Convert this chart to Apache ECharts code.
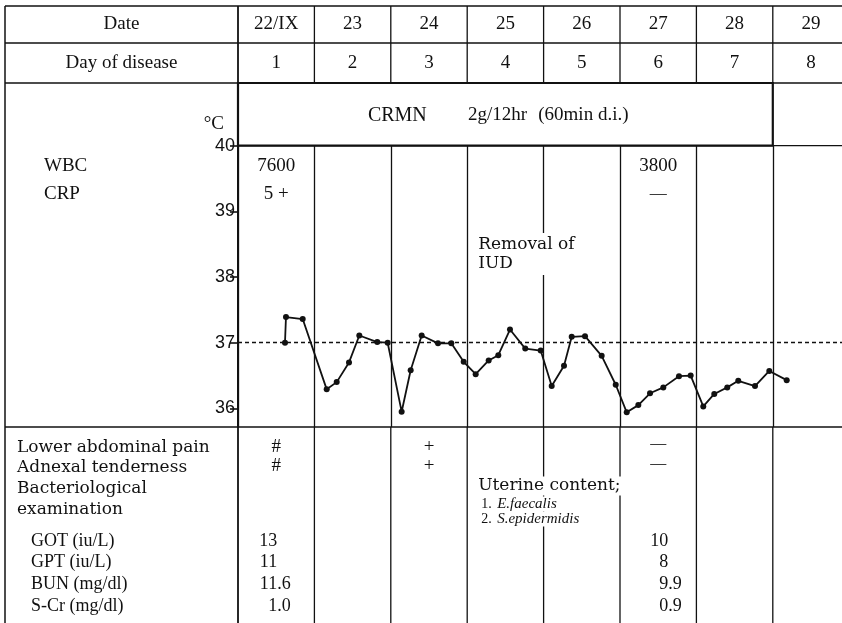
<!DOCTYPE html>
<html><head><meta charset="utf-8">
<script src="https://cdn.jsdelivr.net/npm/echarts@6/dist/echarts.min.js"></script>
<style>html,body{margin:0;padding:0;background:#fff}#c{width:842px;height:623px}</style>
</head><body><div id="c"></div>
<script>
// ---------- DATA ----------
const dates = ['22/IX','23','24','25','26','27','28','29'];
const diseaseDays = ['1','2','3','4','5','6','7','8'];
const tempTicks = [36,37,38,39,40];
// x in days from start of 22/IX, y in °C
const tempX = [0.615,0.628,0.847,1.161,1.292,1.453,1.588,1.823,1.959,2.142,2.260,2.404,2.618,2.792,2.954,3.111,3.281,3.407,3.560,3.760,3.962,4.106,4.267,4.368,4.542,4.760,4.944,5.088,5.240,5.393,5.567,5.772,5.925,6.090,6.234,6.404,6.548,6.767,6.954,7.182];
const tempY = [37.0,37.39,37.36,36.29,36.40,36.70,37.11,37.01,37.0,35.95,36.58,37.11,36.99,36.99,36.71,36.52,36.73,36.81,37.20,36.91,36.88,36.34,36.65,37.09,37.10,36.80,36.36,35.94,36.05,36.23,36.32,36.49,36.50,36.03,36.22,36.32,36.42,36.34,36.57,36.43];
const normalTemp = 37;
const treatmentText = ['CRMN','2g/12hr','(60min d.i.)'];
const treatmentSpan = [0, 7];
const labRows = ['WBC','CRP'];
const wbc = ['7600','','','','','3800','',''];
const crp = ['5 +','','','','','—','',''];
const eventText = ['Removal of','IUD'];
const eventDay = 3;
const signRows = ['Lower abdominal pain','Adnexal tenderness','Bacteriological','examination'];
const abdominalPain = ['#','','+','','','—','',''];
const adnexalTenderness = ['#','','+','','','—','',''];
const bacteriology = ['Uterine content;','1.','E.faecalis','2.','S.epidermidis'];
const bacteriologyDay = 3;
const chemRows = ['GOT (iu/L)','GPT (iu/L)','BUN (mg/dl)','S-Cr (mg/dl)'];
const got = ['13','','','','','10','',''];
const gpt = ['11','','','','','8','',''];
const bun = ['11.6','','','','','9.9','',''];
const scr = ['1.0','','','','','0.9','',''];

// ---------- LAYOUT ----------
const L = {left:5, top:6, row1:43, row2:83, plotTop:145.6, plotBottom:427, bottom:623, W:842, axisX:238, dayW:76.4, degPx:65.7};
const SERIF = '"Liberation Serif", serif';
const WIDE = '"DejaVu Serif", serif';
const INK = '#111';
const LW = 1.3;

const chart = echarts.init(document.getElementById('c'), null, {renderer:'canvas'});
const plotH = L.plotBottom - L.plotTop;
const yMin = 40 - plotH / L.degPx;

chart.setOption({
  animation:false,
  backgroundColor:'#fff',
  grid:{left:L.axisX, top:L.plotTop, width:L.dayW*8, height:plotH, outerBoundsMode:'none', containLabel:false},
  xAxis:{type:'value', min:0, max:8, interval:1,
    axisLine:{show:false}, axisTick:{show:false}, axisLabel:{show:false},
    splitLine:{show:true, lineStyle:{color:INK, width:LW}}},
  yAxis:{type:'value', min:yMin, max:40,
    axisLine:{show:true, lineStyle:{color:INK, width:2}},
    axisTick:{show:true, customValues:tempTicks, length:8, lineStyle:{color:INK, width:1.6}},
    axisLabel:{show:true, customValues:tempTicks, color:INK, fontFamily:'"Liberation Sans", sans-serif', fontSize:18, margin:3},
    splitLine:{show:false}},
  series:[{
    type:'line',
    data:tempX.map((x,i)=>[x,tempY[i]]),
    symbol:'circle', symbolSize:6,
    itemStyle:{color:INK},
    lineStyle:{color:INK, width:1.8},
    markLine:{silent:true, symbol:'none', label:{show:false},
      lineStyle:{color:INK, width:1.3, type:[4,3]},
      data:[{yAxis:normalTemp}]}
  }]
});

const xp = d => chart.convertToPixel({xAxisIndex:0}, d);
const yp = t => chart.convertToPixel({yAxisIndex:0}, t);
const colC = i => xp(i + 0.5);

const g = [];
function line(x1,y1,x2,y2,w){ g.push({type:'line', z:50, shape:{x1,y1,x2,y2}, style:{stroke:INK, lineWidth:w||LW}}); }
function text(t,x,y,opt){
  opt = opt||{};
  g.push({type:'text', z:100, style:Object.assign({text:t, x, y, fill:INK,
    font:(opt.italic?'italic ':'')+(opt.size||18)+'px '+(opt.family||SERIF),
    textAlign:opt.align||'left', align:opt.align||'left',
    textVerticalAlign:'middle', verticalAlign:'middle'}, opt.style||{})});
}

// table lines
[L.top, L.row1, L.row2, L.plotBottom].forEach(y=>line(L.left,y,L.W,y));
line(L.axisX, L.plotTop, L.W, L.plotTop);
line(L.left, L.top, L.left, L.bottom, 1.5);
for (let i=0;i<8;i++){
  line(xp(i), L.top, xp(i), L.row2, i===0?1.8:LW);
  line(xp(i), L.plotBottom, xp(i), L.bottom, i===0?1.8:LW);
}
// treatment box
g.push({type:'rect', z:60, shape:{x:xp(treatmentSpan[0]), y:L.row2, width:xp(treatmentSpan[1])-xp(treatmentSpan[0]), height:L.plotTop-L.row2},
  style:{fill:'#fff', stroke:INK, lineWidth:2.2}});

// header
const yDate = (L.top+L.row1)/2, yDay = (L.row1+L.row2)/2;
text('Date', (L.left+L.axisX)/2, yDate, {align:'center', size:19});
text('Day of disease', (L.left+L.axisX)/2, yDay, {align:'center', size:19});
dates.forEach((d,i)=>text(d, colC(i), yDate, {align:'center', size:19}));
diseaseDays.forEach((d,i)=>text(d, colC(i), yDay, {align:'center', size:19}));

// treatment text
const yTreat = (L.row2+L.plotTop)/2 + 1;
text(treatmentText[0], xp(1.7), yTreat, {size:20});
text(treatmentText[1], xp(3.01), yTreat, {size:19});
text(treatmentText[2], xp(3.93), yTreat, {size:19});
text('°C', 224, yp(40.33), {align:'right', size:19});

// lab rows
const yW = yp(39.69), yC = yp(39.27);
text(labRows[0], 44, yW, {size:19});
text(labRows[1], 44, yC, {size:19});
wbc.forEach((v,i)=>{ if(v) text(v, colC(i), yW, {align:'center', size:19}); });
crp.forEach((v,i)=>{ if(v) text(v, colC(i), yC, {align:'center', size:v==='—'?17:19}); });

// event
g.push({type:'text', z:100, style:{text:eventText.join('\n'), x:xp(eventDay)+11, y:yp(38.67), fill:INK,
  font:'17px '+WIDE, lineHeight:19, align:'left', textAlign:'left', verticalAlign:'top', textVerticalAlign:'top',
  backgroundColor:'#fff', padding:[2,2,2,0]}});

// bottom section
const signY = [448, 468, 489, 510];
signRows.forEach((t,i)=>text(t, 17, signY[i], {size:17, family:WIDE}));
const markSize = v => v==='—' ? 16 : 19;
abdominalPain.forEach((v,i)=>{ if(v) text(v, colC(i), signY[0]-(v==='—'?4:1), {align:'center', size:markSize(v)}); });
adnexalTenderness.forEach((v,i)=>{ if(v) text(v, colC(i), signY[1]-(v==='—'?4:2), {align:'center', size:markSize(v)}); });

const bx = xp(bacteriologyDay)+11;
text(bacteriology[0], bx, 486, {size:17, family:WIDE, style:{backgroundColor:'#fff', padding:[1,2,1,0]}});
text(bacteriology[1], bx+3, 504, {size:14});
text(bacteriology[2], bx+19, 504, {size:15, italic:true, style:{backgroundColor:'#fff'}});
text(bacteriology[3], bx+3, 519, {size:14});
text(bacteriology[4], bx+19, 519, {size:15, italic:true, style:{backgroundColor:'#fff'}});

const chemY = [541, 562, 584, 606];
chemRows.forEach((t,i)=>text(t, 31, chemY[i], {size:18}));
const decOffset = [1,0,0,0,0,10,0,0];
[got,gpt,bun,scr].forEach((arr,r)=>{
  arr.forEach((v,i)=>{
    if(!v) return;
    const dx = colC(i)+decOffset[i];
    const parts = v.split('.');
    text(parts[0], dx, chemY[r], {align:'right', size:18});
    if(parts.length>1) text('.'+parts[1], dx, chemY[r], {align:'left', size:18});
  });
});

chart.setOption({graphic:{elements:g}});
</script>
</body></html>
